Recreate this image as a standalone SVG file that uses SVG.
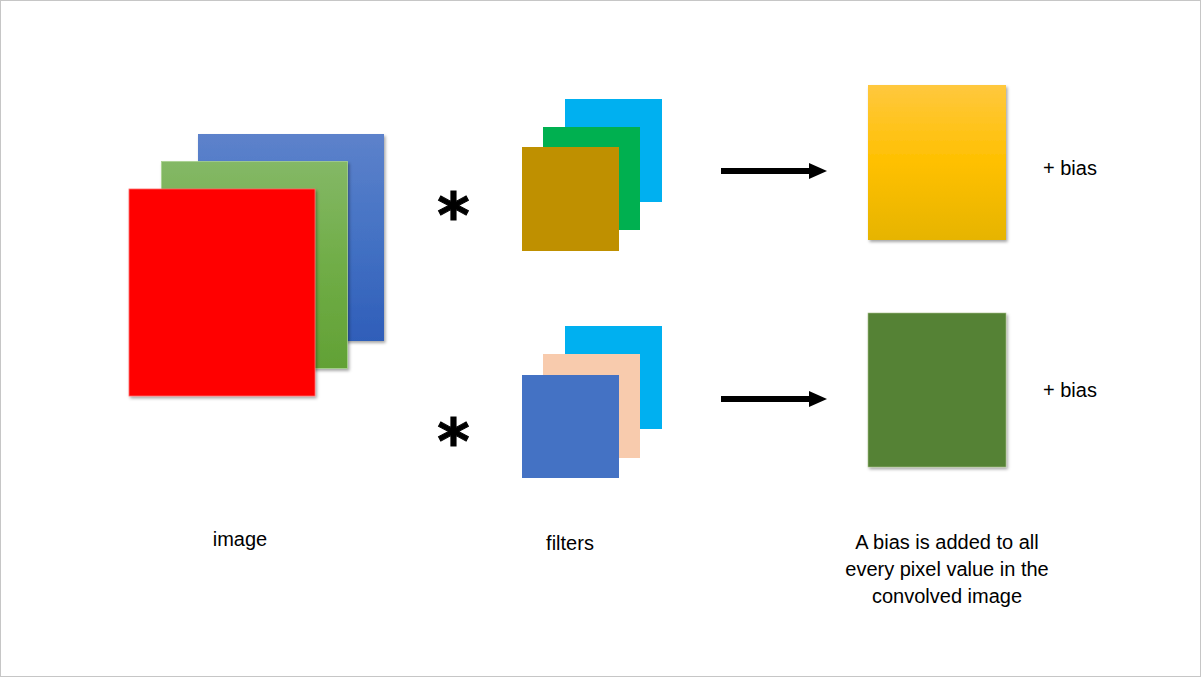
<svg xmlns="http://www.w3.org/2000/svg" width="1202" height="678" viewBox="0 0 1202 678">
  <style>
    .lbl { font-family: "Liberation Sans", Arial, sans-serif; font-size: 20px; fill: #000; }
    .ast { font-family: "DejaVu Sans", sans-serif; font-weight: bold; font-size: 62px; fill: #000; stroke: #000; stroke-width: 1; }
    .sh { filter: url(#shadow); }
    .conn { stroke: #000; stroke-width: 6; fill: none; marker-end: url(#arrow); }
  </style>
  <defs>
    <filter id="shadow" x="-10%" y="-10%" width="130%" height="130%">
      <feDropShadow dx="1.5" dy="2" stdDeviation="1.5" flood-color="#000" flood-opacity="0.35"/>
    </filter>
    <linearGradient id="gBlue" x1="0" y1="0" x2="0" y2="1">
      <stop offset="0" stop-color="#5d82cb"/>
      <stop offset="0.5" stop-color="#4472c4"/>
      <stop offset="1" stop-color="#2f5eb9"/>
    </linearGradient>
    <linearGradient id="gGreen" x1="0" y1="0" x2="0" y2="1">
      <stop offset="0" stop-color="#84b866"/>
      <stop offset="0.5" stop-color="#70ad47"/>
      <stop offset="1" stop-color="#62a135"/>
    </linearGradient>
    <linearGradient id="gYellow" x1="0" y1="0" x2="0" y2="1">
      <stop offset="0" stop-color="#ffc83e"/>
      <stop offset="0.5" stop-color="#ffc000"/>
      <stop offset="1" stop-color="#e6b400"/>
    </linearGradient>
    <marker id="arrow" markerUnits="userSpaceOnUse" markerWidth="18" markerHeight="16" refX="0" refY="8" orient="auto" overflow="visible">
      <path d="M0,0 L18,8 L0,16 Z" fill="#000"/>
    </marker>
  </defs>

  <rect x="0.5" y="0.5" width="1200" height="676" fill="#fff" stroke="#c6c6c6" stroke-width="1"/>

  <g id="image">
    <rect class="sh" x="198" y="134" width="186" height="207" fill="url(#gBlue)"/>
    <rect class="sh" x="161.5" y="161.5" width="186" height="207" fill="url(#gGreen)" stroke="#a9d18e" stroke-width="0.8"/>
    <rect class="sh" x="129" y="189" width="186" height="207" fill="#ff0000" stroke="#ff6b6b" stroke-width="0.8"/>
    <text class="lbl" x="240" y="546" text-anchor="middle">image</text>
  </g>

  <g id="filter1">
    <text class="ast" x="453.5" y="237" text-anchor="middle">*</text>
    <rect x="565" y="99" width="97" height="103" fill="#00b0f0"/>
    <rect x="543" y="127" width="97" height="103" fill="#00b050"/>
    <rect x="522" y="147" width="97" height="104" fill="#bf9000"/>
  </g>

  <g id="filter2">
    <text class="ast" x="453.5" y="463" text-anchor="middle">*</text>
    <rect x="565" y="326" width="97" height="103" fill="#00b0f0"/>
    <rect x="543" y="354" width="97" height="104" fill="#f8cbad"/>
    <rect x="522" y="375" width="97" height="103" fill="#4472c4"/>
    <text class="lbl" x="570" y="550" text-anchor="middle">filters</text>
  </g>

  <g id="output1">
    <rect class="sh" x="868" y="85" width="138" height="155" fill="url(#gYellow)"/>
    <text class="lbl" x="1043" y="175">+ bias</text>
  </g>

  <g id="output2">
    <rect class="sh" x="868" y="313" width="138" height="154" fill="#548235" stroke="#a9c08a" stroke-width="0.6"/>
    <text class="lbl" x="1043" y="397">+ bias</text>
  </g>

  <g id="note">
    <text class="lbl" x="947" y="549" text-anchor="middle">A bias is added to all</text>
    <text class="lbl" x="947" y="576" text-anchor="middle">every pixel value in the</text>
    <text class="lbl" x="947" y="603" text-anchor="middle">convolved image</text>
  </g>

  <g id="connectors">
    <line class="conn" x1="721" y1="171" x2="809" y2="171"/>
    <line class="conn" x1="721" y1="399" x2="809" y2="399"/>
  </g>
</svg>
